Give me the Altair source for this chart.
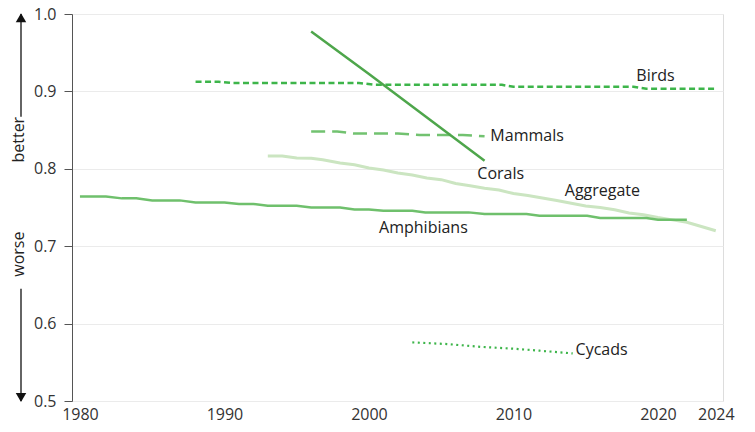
import altair as alt
import pandas as pd

FONT = "Open Sans"

# ---- data ----
birds_years = [1988, 1989.6, 1990.4, 1999.3, 2000.4, 2009.2, 2010.0, 2018.3, 2019.2, 2024]
birds_vals = [0.9125, 0.9125, 0.911, 0.911, 0.9085, 0.9085, 0.906, 0.906, 0.9035, 0.9035]

mammals_years = [1996, 1997.8, 1998.9, 2002.0, 2003.5, 2006.5, 2008]
mammals_vals = [0.8483, 0.8483, 0.8457, 0.8457, 0.8437, 0.8437, 0.842]

corals_years = [1996, 2000, 2008]
corals_vals = [0.9775, 0.9225, 0.8105]

aggregate_years = [1993, 1994, 1995, 1996, 1996.8, 1998, 1999, 2000, 2001, 2002, 2003,
                   2004, 2005, 2006, 2007, 2008, 2009, 2010, 2011, 2012, 2013, 2014,
                   2015, 2016, 2017, 2018, 2019, 2020, 2021, 2022, 2023, 2024]
aggregate_vals = [0.8165, 0.8165, 0.814, 0.8135, 0.8118, 0.8075, 0.8053, 0.801, 0.7984,
                  0.7946, 0.792, 0.788, 0.786, 0.781, 0.778, 0.775, 0.7725, 0.768, 0.7656,
                  0.7622, 0.759, 0.7555, 0.752, 0.750, 0.747, 0.743, 0.7405, 0.737, 0.734,
                  0.731, 0.7255, 0.720]

amphibians_years = [1980, 1981.8, 1982.9, 1983.9, 1985, 1986.9, 1988, 1990, 1991, 1992,
                    1993, 1995, 1996, 1998, 1999, 2000, 2001, 2003, 2003.9, 2006.9, 2008,
                    2010.9, 2011.8, 2015.1, 2016, 2019.2, 2020, 2022]
amphibians_vals = [0.7643, 0.7643, 0.7618, 0.7618, 0.7592, 0.7592, 0.7566, 0.7566, 0.7545,
                   0.7545, 0.7523, 0.7523, 0.7501, 0.7501, 0.7475, 0.7475, 0.7459, 0.7459,
                   0.7437, 0.7437, 0.7416, 0.7416, 0.7394, 0.7394, 0.7364, 0.7364, 0.7343,
                   0.7343]

cycads_years = [2003, 2005.4, 2007.7, 2010, 2011.8, 2014.1]
cycads_vals = [0.5757, 0.5736, 0.570, 0.5676, 0.565, 0.5615]

label_names = ["Birds", "Mammals", "Corals", "Aggregate", "Amphibians", "Cycads"]
label_x = [2018.5, 2008.4, 2007.5, 2013.55, 2000.7, 2014.3]
label_y = [0.920, 0.842, 0.7933, 0.7708, 0.723, 0.5665]

x_ticks = [1980, 1990, 2000, 2010, 2020, 2024]
y_ticks = [0.5, 0.6, 0.7, 0.8, 0.9, 1.0]

# ---- scales ----
xs = alt.Scale(domain=[1979.45, 2024.5], nice=False, zero=False)
ys = alt.Scale(domain=[0.5, 1.0], nice=False, zero=False)

X = alt.X("year:Q", scale=xs,
          axis=alt.Axis(values=x_ticks, format="d", title=None, domain=False,
                        ticks=False, grid=False, labelPadding=5, labelFontSize=16,
                        labelColor="#333", labelFont=FONT, labelFlush=False))
Y = alt.Y("value:Q", scale=ys,
          axis=alt.Axis(values=y_ticks, format=".1f", title=None, domain=True,
                        domainColor="#555", tickColor="#555", tickSize=8,
                        labelPadding=8, labelFontSize=16, labelColor="#333",
                        labelFont=FONT, grid=True, gridColor="#ebebeb"))


def series(years, vals, **mark):
    df = pd.DataFrame({"year": years, "value": vals})
    return alt.Chart(df).mark_line(**mark).encode(x=X, y=Y)


aggregate = series(aggregate_years, aggregate_vals, color="#cbe5c1", strokeWidth=3)
amphibians = series(amphibians_years, amphibians_vals, color="#6fc06c", strokeWidth=2.5)
birds = series(birds_years, birds_vals, color="#3db54a", strokeWidth=2.5, strokeDash=[6, 3.5])
mammals = series(mammals_years, mammals_vals, color="#72c270", strokeWidth=2.5, strokeDash=[14, 7])
corals = series(corals_years, corals_vals, color="#4ea64b", strokeWidth=2.5)
cycads = series(cycads_years, cycads_vals, color="#3db54a", strokeWidth=2.2, strokeDash=[2, 3.5])

labels_df = pd.DataFrame({"year": label_x, "value": label_y, "label": label_names})
labels = alt.Chart(labels_df).mark_text(
    align="left", baseline="middle", font=FONT, fontSize=16, color="#222"
).encode(x=alt.X("year:Q", scale=xs), y=alt.Y("value:Q", scale=ys), text="label:N")

# ---- "better" / "worse" arrows at the left ----
arrow_lines_df = pd.DataFrame({"y1": [1.0, 0.645], "y2": [0.8673, 0.5]})
arrow_lines = alt.Chart(arrow_lines_df).mark_rule(color="#111", strokeWidth=1.3).encode(
    x=alt.value(-51), y=alt.Y("y1:Q", scale=ys), y2="y2:Q")

heads_df = pd.DataFrame({"value": [0.9952, 0.5045], "shape": ["triangle-up", "triangle-down"]})
heads = alt.Chart(heads_df).mark_point(filled=True, color="#111", size=110, opacity=1).encode(
    x=alt.value(-51), y=alt.Y("value:Q", scale=ys),
    shape=alt.Shape("shape:N", scale=None, legend=None))

words_df = pd.DataFrame({"value": [0.8376, 0.6897], "word": ["better", "worse"]})
words = alt.Chart(words_df).mark_text(
    angle=270, align="center", baseline="middle", font=FONT, fontSize=16, color="#222"
).encode(x=alt.value(-53), y=alt.Y("value:Q", scale=ys), text="word:N")

chart = alt.layer(
    aggregate, amphibians, birds, mammals, corals, cycads, labels, arrow_lines, heads, words
).properties(
    width=651, height=387,
    autosize=alt.AutoSizeParams(type="none"),
    padding={"left": 64, "top": 6, "right": 24, "bottom": 23},
).configure_view(stroke=None).configure(background="white")

chart.save("out.html", embed_options={"renderer": "svg", "actions": False})
